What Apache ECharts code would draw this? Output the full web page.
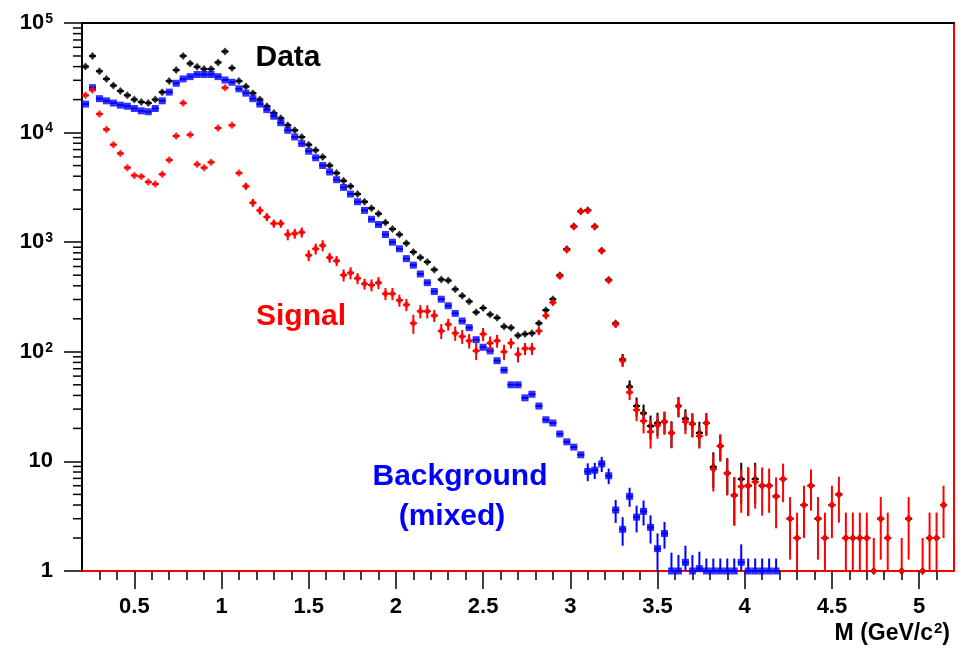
<!DOCTYPE html>
<html>
<head>
<meta charset="utf-8">
<script src="https://cdn.jsdelivr.net/npm/echarts@6/dist/echarts.min.js"></script>
<style>
html,body{margin:0;padding:0;background:#fff;}
#chart{width:965px;height:650px;}
</style>
</head>
<body>
<div id="chart"></div>
<script>
// Bin centres of the invariant-mass histogram (GeV/c^2)
const binCenters = [
 0.22,0.26,0.30,0.34,0.38,0.42,0.46,0.50,0.54,0.58,
 0.62,0.66,0.70,0.74,0.78,0.82,0.86,0.90,0.94,0.98,
 1.02,1.06,1.10,1.14,1.18,1.22,1.26,1.30,1.34,1.38,
 1.42,1.46,1.50,1.54,1.58,1.62,1.66,1.70,1.74,1.78,
 1.82,1.86,1.90,1.94,1.98,2.02,2.06,2.10,2.14,2.18,
 2.22,2.26,2.30,2.34,2.38,2.42,2.46,2.50,2.54,2.58,
 2.62,2.66,2.70,2.74,2.78,2.82,2.86,2.90,2.94,2.98,
 3.02,3.06,3.10,3.14,3.18,3.22,3.26,3.30,3.34,3.38,
 3.42,3.46,3.50,3.54,3.58,3.62,3.66,3.70,3.74,3.78,
 3.82,3.86,3.90,3.94,3.98,4.02,4.06,4.10,4.14,4.18,
 4.22,4.26,4.30,4.34,4.38,4.42,4.46,4.50,4.54,4.58,
 4.62,4.66,4.70,4.74,4.78,4.82,4.86,4.90,4.94,4.98,
 5.02,5.06,5.10,5.14,5.18
];

// Data (black)
const dataValues = [
 40000,50000,36300,30900,26900,24000,21900,20000,19000,18600,
 20000,23400,29500,37200,50100,42700,39800,38000,38000,43700,
 55000,38900,29500,26300,22900,20000,17400,15100,13500,11700,
 10500,9100,7760,6900,6000,5000,4270,3630,3240,2750,
 2340,2040,1820,1510,1320,1175,977,813,724,661,
 562,457,447,372,324,288,229,251,219,204,
 170,166,141,145,148,182,240,302,500,865,
 1395,1915,1960,1390,840,455,182,85,48,32,
 27.5,21,22.4,23,18.2,32,24.5,22,18.2,22.4,
 8.9,13.8,7.8,4.9,6.9,6,6.9,6,6,4.8,
 6.9,3,2,4,6,3,2,4,5,2,
 2,2,2,1,3,2,null,1,3,null,
 1,2,2,4,null
];
const dataErrors = [
 null,null,null,null,null,null,null,null,null,null,
 null,null,null,null,null,null,null,null,null,null,
 null,null,null,null,null,null,null,null,null,null,
 null,null,null,null,null,null,null,null,null,null,
 null,null,null,null,null,null,null,null,null,null,
 null,null,null,null,null,null,null,null,null,null,
 null,null,null,null,null,null,null,null,null,null,
 null,null,null,null,null,null,null,10.5,6.8,6.3,
 5.5,5.2,5.4,5.4,5,6.7,5.4,5.4,4.8,5.2,
 3.2,3.8,2.9,2.3,2.8,2.8,2.8,null,null,null,
 null,null,null,null,null,null,null,null,null,null,
 null,null,null,null,null,null,null,null,null,null,
 null,null,null,null,null
];

// Signal (red)
const signalValues = [
 21900,24500,14800,10700,7760,6460,4790,4070,3980,3550,
 3390,4170,5620,9330,18600,9550,5130,4790,5370,11000,
 25700,11700,4270,3240,2290,1950,1700,1480,1480,1175,
 1200,1230,759,871,933,724,676,501,525,468,
 417,407,427,339,339,295,269,182,234,234,
 214,155,178,148,138,126,102,145,120,126,
 100,120,95,107,107,155,214,282,490,851,
 1380,1905,1950,1380,832,447,178,83,42.7,29.5,
 23.4,18.6,21.4,23,18.2,32,23,22,17,22.4,
 8.5,13.8,7.8,4.9,5.9,6,6.5,6,6,4.8,
 6.9,3,2,4,6,3,2,4,5,2,
 2,2,2,1,3,2,null,1,3,null,
 1,2,2,4,null
];
const signalErrors = [
 null,null,null,null,null,null,null,null,null,null,
 null,null,null,null,null,null,null,null,null,null,
 null,null,null,220,190,165,143,125,125,136,
 126,130,88,100,108,76,71,63,66,54,
 48,51,54,43,43,37,34,36,32,32,
 27,24,22,22,20,19,18,20,18,17,
 16,13,15,13.5,13.5,13,16,18,26,36,
 42,45,45,42,35,23,13,10.5,6.5,6.2,
 5.4,5.5,5.3,5.3,4.9,6.7,5.3,5.4,3.9,5.2,
 3.2,3.75,2.85,2.3,2.5,2.8,2.8,2.8,2.6,2.35,
 2.65,1.73,1.41,2,2.45,1.73,1.41,2,2.24,1.41,
 1.41,1.41,1.41,1,1.73,1.41,null,1,1.73,null,
 1,1.41,1.41,2,null
];

// Background, mixed events (blue)
const backgroundValues = [
 18200,25700,20400,19500,18600,17800,17400,16600,15800,15500,
 16600,19500,23400,28200,30900,32400,33900,33900,33900,32400,
 30200,28800,25100,22900,20400,18200,16200,14100,12300,10500,
 9120,7940,6760,5890,5010,4370,3720,3160,2750,2340,
 1950,1620,1450,1175,1000,871,708,617,513,427,
 355,302,263,224,191,166,129,110,102,83,
 68,50,50,38,41,32,24,22.4,17.8,15.1,
 13.5,11.5,8.1,8.3,9.5,7.4,3.6,2.4,4.8,3.1,
 3.5,2.5,1.6,2.2,1,1,1.2,1,1.05,1,
 1,1,1,1,1.2,1,1,1,1,1,
 null,null,null,null,null,null,null,null,null,null,
 null,null,null,null,null,null,null,null,null,null,
 null,null,null,null,null
];
const backgroundErrors = [
 null,null,null,null,null,null,null,null,null,null,
 null,null,null,null,null,null,null,null,null,null,
 null,null,null,null,null,null,null,null,null,null,
 null,null,null,null,null,null,null,null,null,null,
 null,null,null,null,null,null,null,null,null,null,
 null,null,null,null,null,null,null,null,null,null,
 null,null,null,null,null,null,null,null,null,null,
 null,null,1.5,1.4,1.5,1.2,0.85,0.7,0.95,0.85,
 0.9,0.72,0.6,0.6,0.47,0.4,0.5,0.4,0.45,0.3,
 0.3,0.3,0.3,0.3,0.55,0.3,0.3,0.3,0.3,0.3,
 null,null,null,null,null,null,null,null,null,null,
 null,null,null,null,null,null,null,null,null,null,
 null,null,null,null,null
];

// Axis tick values
const xMajorTicks = [0.5,1,1.5,2,2.5,3,3.5,4,4.5,5];
const xMinorTicks = [0.3,0.4,0.6,0.7,0.8,0.9,1.1,1.2,1.3,1.4,1.6,1.7,1.8,1.9,
  2.1,2.2,2.3,2.4,2.6,2.7,2.8,2.9,3.1,3.2,3.3,3.4,3.6,3.7,3.8,3.9,
  4.1,4.2,4.3,4.4,4.6,4.7,4.8,4.9,5.1];
const yDecades = [1,10,100,1000,10000];
const yMinorMultipliers = [2,3,4,5,6,7,8,9];

const X_MIN = 0.2, X_MAX = 5.2, Y_MIN = 1, Y_MAX = 100000;
const HALF_BIN = 0.02;
const FONT = '"Liberation Sans", Arial, Helvetica, sans-serif';

function points(vals, errs) {
  const out = [];
  for (let i = 0; i < binCenters.length; i++) {
    if (vals[i] == null) continue;
    out.push([binCenters[i], vals[i], errs[i] == null ? 0 : errs[i]]);
  }
  return out;
}

function errRender(color) {
  return function (params, api) {
    const x = api.value(0), v = api.value(1), e = api.value(2);
    const c = api.coord([x, v]);
    const l = api.coord([x - HALF_BIN, v]);
    const r = api.coord([x + HALF_BIN, v]);
    const children = [{
      type: 'line',
      shape: {x1: l[0], y1: c[1], x2: r[0], y2: c[1]},
      style: {stroke: color, lineWidth: 2}
    }];
    if (isFinite(e) && e > 0) {
      const hi = api.coord([x, Math.min(v + e, Y_MAX)]);
      const lo = api.coord([x, Math.max(v - e, Y_MIN)]);
      children.push({
        type: 'line',
        shape: {x1: c[0], y1: hi[1], x2: c[0], y2: lo[1]},
        style: {stroke: color, lineWidth: 2}
      });
    }
    return {type: 'group', children: children};
  };
}

const yMinorData = [];
yDecades.forEach(function (d) {
  yMinorMultipliers.forEach(function (m) { yMinorData.push([X_MIN, d * m]); });
});

const dataPts = points(dataValues, dataErrors);
const sigPts = points(signalValues, signalErrors);
const bgPts = points(backgroundValues, backgroundErrors);

const chart = echarts.init(document.getElementById('chart'), null, {renderer: 'canvas'});

const option = {
  animation: false,
  backgroundColor: '#fff',
  grid: {left: 82, right: 11, top: 23, bottom: 79, show: false},
  xAxis: [{
    type: 'value', min: X_MIN, max: X_MAX, position: 'bottom',
    axisLine: {show: true, lineStyle: {color: '#ff0000', width: 2}},
    axisTick: {show: true, inside: false, length: 18, customValues: xMajorTicks, lineStyle: {color: '#000', width: 1.5}},
    axisLabel: {show: true, customValues: xMajorTicks, margin: 25, color: '#000', fontSize: 22, fontWeight: 'bold', fontFamily: FONT,
      formatter: function (v) { return String(v); }},
    splitLine: {show: false}
  }, {
    type: 'value', min: X_MIN, max: X_MAX, position: 'bottom', offset: 0,
    axisLine: {show: false},
    axisTick: {show: true, inside: false, length: 9, customValues: xMinorTicks, lineStyle: {color: '#000', width: 1.5}},
    axisLabel: {show: false},
    splitLine: {show: false}
  }, {
    type: 'value', min: X_MIN, max: X_MAX, position: 'top', offset: 0,
    axisLine: {show: true, lineStyle: {color: '#000', width: 2}},
    axisTick: {show: false}, axisLabel: {show: false}, splitLine: {show: false}
  }],
  yAxis: [{
    type: 'log', logBase: 10, min: Y_MIN, max: Y_MAX, position: 'left',
    axisLine: {show: true, lineStyle: {color: '#000', width: 2}},
    axisTick: {show: true, inside: false, length: 18, lineStyle: {color: '#000', width: 1.5}},
    axisLabel: {
      margin: 29, color: '#000', fontSize: 22, fontWeight: 'bold', fontFamily: FONT,
      formatter: function (v) {
        const e = Math.round(Math.log10(v));
        if (e === 0) return '1';
        if (e === 1) return '10';
        return '{b|10}{s|' + e + '}';
      },
      rich: {
        b: {fontSize: 22, fontWeight: 'bold', fontFamily: FONT, color: '#000', lineHeight: 22, verticalAlign: 'bottom'},
        s: {fontSize: 14, fontWeight: 'bold', fontFamily: FONT, color: '#000', lineHeight: 14, verticalAlign: 'bottom', padding: [0, 0, 8, 1]}
      }
    },
    splitLine: {show: false},
    minorTick: {show: false}
  }, {
    type: 'log', logBase: 10, min: Y_MIN, max: Y_MAX, position: 'right',
    axisLine: {show: true, lineStyle: {color: '#ff0000', width: 2}},
    axisTick: {show: false}, axisLabel: {show: false}, splitLine: {show: false}
  }],
  series: [
    {
      type: 'custom', name: 'yMinorTicks', xAxisIndex: 0, yAxisIndex: 0, clip: false, silent: true,
      data: yMinorData, encode: {x: 0, y: 1}, z: 1,
      renderItem: function (params, api) {
        const p = api.coord([api.value(0), api.value(1)]);
        return {type: 'line', shape: {x1: p[0] - 9, y1: p[1], x2: p[0], y2: p[1]}, style: {stroke: '#000', lineWidth: 1.5}};
      }
    },
    {type: 'custom', name: 'DataErr', data: dataPts, encode: {x: 0, y: 1}, renderItem: errRender('#000000'), z: 2, silent: true},
    {type: 'scatter', name: 'Data', data: dataPts.map(function (p) { return [p[0], p[1]]; }),
      symbol: 'diamond', symbolSize: [7, 8], itemStyle: {color: '#000000'}, z: 3, silent: true},
    {type: 'custom', name: 'BgErr', data: bgPts, encode: {x: 0, y: 1}, renderItem: errRender('#0000ff'), z: 4, silent: true},
    {type: 'scatter', name: 'Background', data: bgPts.map(function (p) { return [p[0], p[1]]; }),
      symbol: 'rect', symbolSize: [7, 7], itemStyle: {color: '#0000ff'}, z: 5, silent: true},
    {type: 'custom', name: 'SigErr', data: sigPts, encode: {x: 0, y: 1}, renderItem: errRender('#ff0000'), z: 6, silent: true},
    {type: 'scatter', name: 'Signal', data: sigPts.map(function (p) { return [p[0], p[1]]; }),
      symbol: 'diamond', symbolSize: [7, 8], itemStyle: {color: '#ff0000'}, z: 7, silent: true}
  ],
  graphic: [
    {type: 'text', x: 288, y: 58, z: 10, style: {text: 'Data', fill: '#000', font: 'bold 30px ' + FONT, align: 'center', verticalAlign: 'middle', textAlign: 'center', textVerticalAlign: 'middle'}},
    {type: 'text', x: 301, y: 317, z: 10, style: {text: 'Signal', fill: '#ff0000', font: 'bold 30px ' + FONT, align: 'center', verticalAlign: 'middle', textAlign: 'center', textVerticalAlign: 'middle'}},
    {type: 'text', x: 460, y: 477, z: 10, style: {text: 'Background', fill: '#0000ff', font: 'bold 30px ' + FONT, align: 'center', verticalAlign: 'middle', textAlign: 'center', textVerticalAlign: 'middle'}},
    {type: 'text', x: 452, y: 517, z: 10, style: {text: '(mixed)', fill: '#0000ff', font: 'bold 30px ' + FONT, align: 'center', verticalAlign: 'middle', textAlign: 'center', textVerticalAlign: 'middle'}},
    {type: 'text', x: 950, y: 634, z: 10, style: {
      text: '{a|M (GeV/c}{s|2}{a|)}', align: 'right', verticalAlign: 'middle', textAlign: 'right', textVerticalAlign: 'middle',
      rich: {
        a: {fontSize: 23, fontWeight: 'bold', fontFamily: FONT, fill: '#000', color: '#000', lineHeight: 23, verticalAlign: 'bottom'},
        s: {fontSize: 15, fontWeight: 'bold', fontFamily: FONT, fill: '#000', color: '#000', lineHeight: 15, verticalAlign: 'bottom', padding: [0, 0, 9, 1]}
      }
    }}
  ]
};
chart.setOption(option);
</script>
</body>
</html>
